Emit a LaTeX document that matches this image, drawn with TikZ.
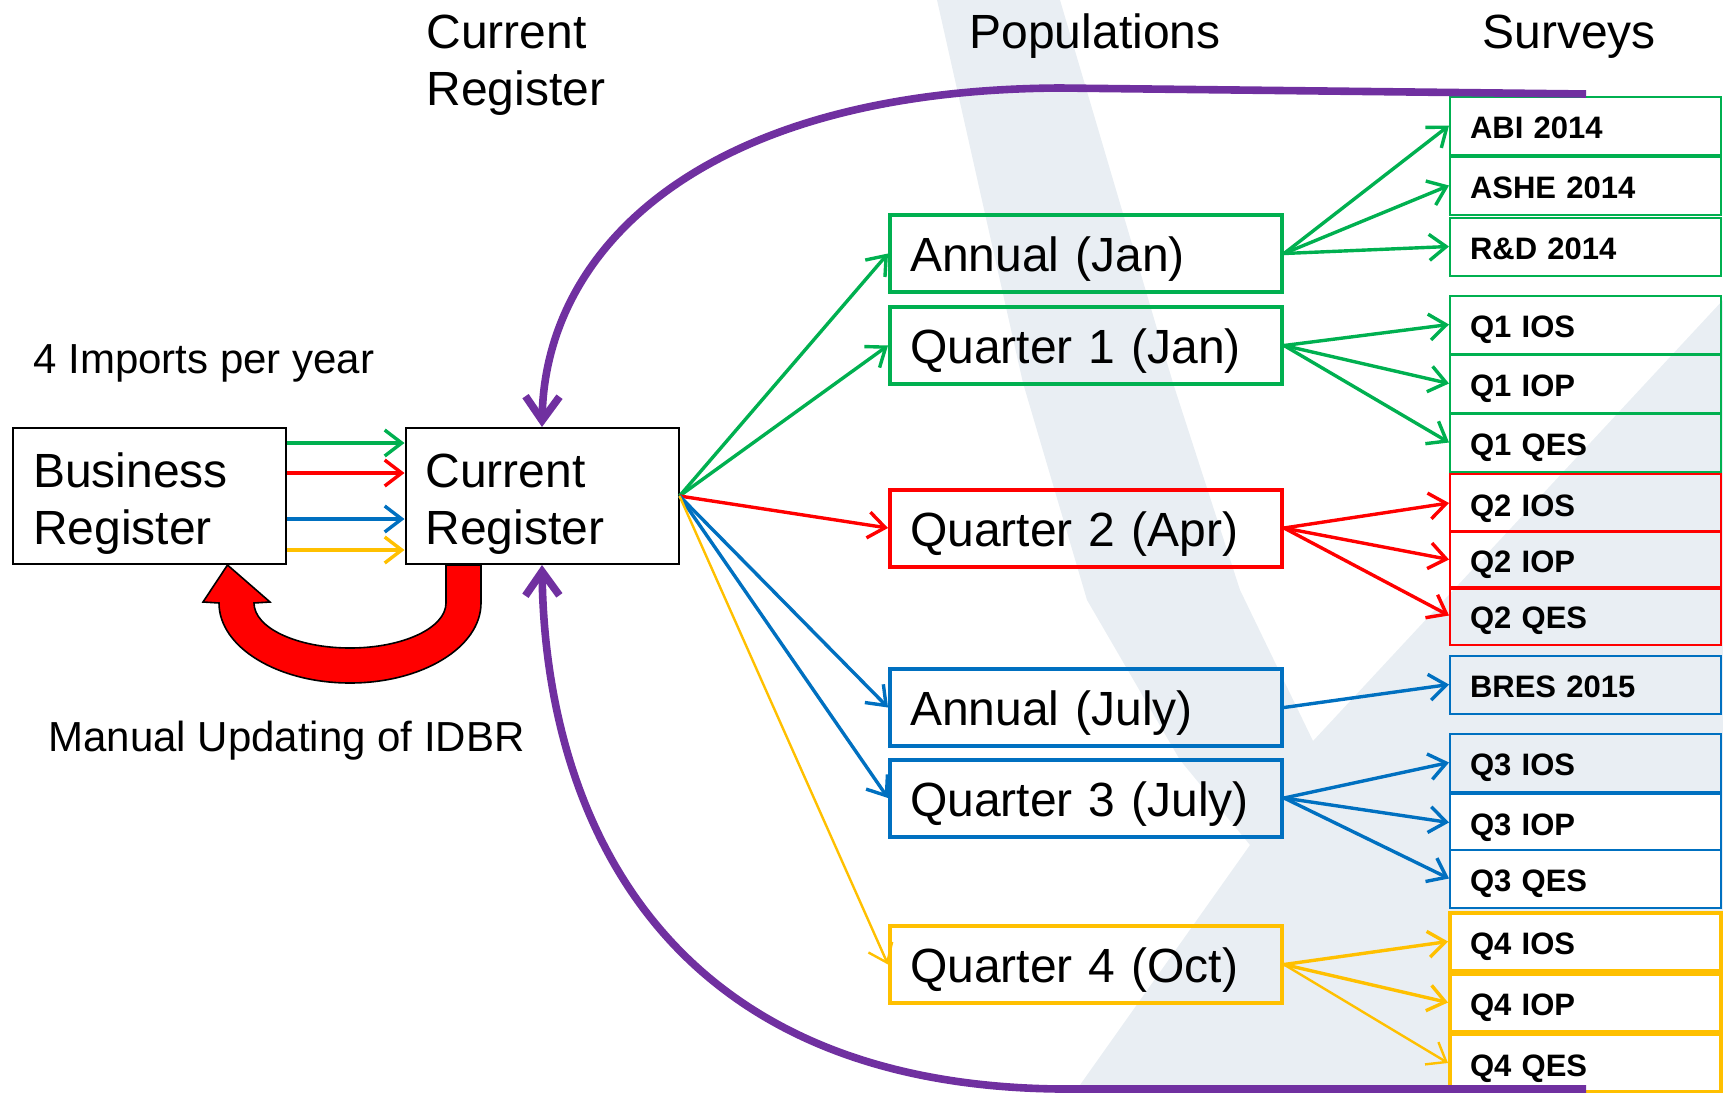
\documentclass[tikz,border=0pt]{standalone}
\usepackage{fontspec}
\setmainfont{Liberation Sans}
\usetikzlibrary{arrows.meta,calc}

\definecolor{onsgreen}{RGB}{0,176,80}
\definecolor{onsred}{RGB}{255,0,0}
\definecolor{onsblue}{RGB}{0,112,192}
\definecolor{onsyellow}{RGB}{255,192,0}
\definecolor{onspurple}{RGB}{112,48,160}
\definecolor{wmark}{RGB}{233,238,243}

\begin{document}
\begin{tikzpicture}[
    x=0.5pt, y=0.5pt,
    >={Straight Barb[length=8.5pt,width=13pt]},
    regbox/.style={draw=black, fill=white, line width=1pt, align=left, text width=116.5pt, inner xsep=10pt, minimum height=68pt, text height=24.5pt, text depth=33.5pt, font=\fontsize{24}{28.5}\selectfont},
    popbox/.style={draw=#1, line width=2pt, align=left, text width=176pt, inner xsep=10pt, minimum height=38.5pt, text height=23pt, text depth=5pt, font=\fontsize{24}{28.5}\selectfont},
    svbox/.style={draw=#1, line width=1pt, align=left, text width=115.5pt, inner xsep=10pt, minimum height=29pt, text height=14pt, text depth=1pt, font=\fontsize{15.5}{18}\selectfont\bfseries},
    heading/.style={align=left, inner sep=0pt, font=\fontsize{24}{28.5}\selectfont},
    note/.style={inner sep=0pt, font=\fontsize{21}{25}\selectfont},
    flow/.style={->, line width=1.7pt, draw=#1},
    loopback/.style={-{Straight Barb[length=12pt,width=17pt]}, line width=3.8pt, draw=onspurple},
    uturn/.style={fill=onsred, draw=black, line width=0.8pt, line join=miter}
]
\useasboundingbox (0,0) rectangle (1723,-1092);

% background mark
\fill[wmark] (937,0) -- (1060,0) -- (1173,-383) -- (1240,-590) -- (1313,-741) -- (1723,-300) -- (1723,-1092) -- (1075,-1092) -- (1250,-845) -- (1180,-760) -- (1087,-600) -- (1023,-383) -- cycle;

% column headings
\node[heading, anchor=west] (hcurreg) at (426,-65) {Current\\Register};
\node[heading] (hpop) at (1095,-36.5) {Populations};
\node[heading] (hsurv) at (1569,-36.5) {Surveys};
\node[note, anchor=west] (imports) at (33,-363.5) {4 Imports per year};
\node[note, anchor=west] (manual) at (48,-741) {Manual Updating of IDBR};

% registers
\node[regbox] (busreg) at (149.5,-496) {Business\\Register};
\node[regbox] (curreg) at (542,-496) {Current\\Register};

% populations
\node[popbox=onsgreen] (annjan) at (1086,-253.5) {Annual (Jan)};
\node[popbox=onsgreen] (qonejan) at (1086,-345.5) {Quarter 1 (Jan)};
\node[popbox=onsred] (qtwoapr) at (1086,-528) {Quarter 2 (Apr)};
\node[popbox=onsblue] (annjul) at (1086,-707.5) {Annual (July)};
\node[popbox=onsblue] (qthreejul) at (1086,-798) {Quarter 3 (July)};
\node[popbox=onsyellow] (qfouroct) at (1086,-964.5) {Quarter 4 (Oct)};

% surveys
\node[svbox=onsgreen] (abi) at (1585.5,-125.5) {ABI 2014};
\node[svbox=onsgreen] (ashe) at (1585.5,-185.5) {ASHE 2014};
\node[svbox=onsgreen] (rnd) at (1585.5,-246.5) {R\&D 2014};
\node[svbox=onsgreen] (qoneios) at (1585.5,-324.5) {Q1 IOS};
\node[svbox=onsgreen] (qoneiop) at (1585.5,-383.5) {Q1 IOP};
\node[svbox=onsgreen] (qoneqes) at (1585.5,-442.5) {Q1 QES};
\node[svbox=onsred] (qtwoios) at (1585.5,-503) {Q2 IOS};
\node[svbox=onsred] (qtwoiop) at (1585.5,-559.5) {Q2 IOP};
\node[svbox=onsred] (qtwoqes) at (1585.5,-615.5) {Q2 QES};
\node[svbox=onsblue] (bres) at (1585.5,-684.5) {BRES 2015};
\node[svbox=onsblue] (qthreeios) at (1585.5,-762.5) {Q3 IOS};
\node[svbox=onsblue, fill=white] (qthreeiop) at (1585.5,-822.5) {Q3 IOP};
\node[svbox=onsblue, fill=white] (qthreeqes) at (1585.5,-878.5) {Q3 QES};
\node[svbox=onsyellow, fill=white, line width=2pt] (qfourios) at (1585.5,-941.5) {Q4 IOS};
\node[svbox=onsyellow, fill=white, line width=2pt] (qfouriop) at (1585.5,-1002.5) {Q4 IOP};
\node[svbox=onsyellow, fill=white, line width=2pt] (qfourqes) at (1585.5,-1063) {Q4 QES};

% imports
\draw[flow=onsgreen] ([yshift=26.5pt]busreg.east) -- ([yshift=26.5pt]curreg.west);
\draw[flow=onsred] ([yshift=11.5pt]busreg.east) -- ([yshift=11.5pt]curreg.west);
\draw[flow=onsblue] ([yshift=-11.5pt]busreg.east) -- ([yshift=-11.5pt]curreg.west);
\draw[flow=onsyellow] ([yshift=-27pt]busreg.east) -- ([yshift=-27pt]curreg.west);

% register to populations
\draw[flow=onsgreen] (curreg.east) -- (annjan.west);
\draw[flow=onsgreen] (curreg.east) -- (qonejan.west);
\draw[flow=onsred] (curreg.east) -- (qtwoapr.west);
\draw[flow=onsblue] (curreg.east) -- (annjul.west);
\draw[flow=onsblue] (curreg.east) -- (qthreejul.west);
\draw[flow=onsyellow, line width=1.2pt] (curreg.east) -- (qfouroct.west);

% populations to surveys
\draw[flow=onsgreen] (annjan.east) -- (abi.west);
\draw[flow=onsgreen] (annjan.east) -- (ashe.west);
\draw[flow=onsgreen] (annjan.east) -- (rnd.west);
\draw[flow=onsgreen] (qonejan.east) -- (qoneios.west);
\draw[flow=onsgreen] (qonejan.east) -- (qoneiop.west);
\draw[flow=onsgreen] (qonejan.east) -- (qoneqes.west);
\draw[flow=onsred] (qtwoapr.east) -- (qtwoios.west);
\draw[flow=onsred] (qtwoapr.east) -- (qtwoiop.west);
\draw[flow=onsred] (qtwoapr.east) -- (qtwoqes.west);
\draw[flow=onsblue] (annjul.east) -- (bres.west);
\draw[flow=onsblue] (qthreejul.east) -- (qthreeios.west);
\draw[flow=onsblue] (qthreejul.east) -- (qthreeiop.west);
\draw[flow=onsblue] (qthreejul.east) -- (qthreeqes.west);
\draw[flow=onsyellow] (qfouroct.east) -- (qfourios.west);
\draw[flow=onsyellow] (qfouroct.east) -- (qfouriop.west);
\draw[flow=onsyellow, line width=1.2pt] (qfouroct.east) -- (qfourqes.west);

% surveys feed back into the register
\coordinate (toptail) at (1586,-94);
\coordinate (topbend) at (1060,-88);
\coordinate (bottail) at (1586,-1089);
\coordinate (botbend) at (1060,-1089);
\draw[loopback] (toptail) -- (topbend) .. controls (700,-90) and (545,-250) .. (curreg.north);
\draw[loopback] (bottail) -- (botbend) .. controls (650,-1085) and (545,-800) .. (curreg.south);

% manual updating
\coordinate (ucenter) at (350,-603);
\draw[uturn] ([xshift=-30.5pt]curreg.south) -- ($(ucenter)+(131,0)$)
    arc[start angle=0, end angle=-180, x radius=65.5pt, y radius=40pt]
    -- ($(ucenter)+(-147,1)$) -- ([xshift=39pt]busreg.south) -- ($(ucenter)+(-80,1)$)
    -- ($(ucenter)+(-96,0)$) arc[start angle=180, end angle=360, x radius=48pt, y radius=22.5pt]
    -- ([xshift=-48pt]curreg.south) -- cycle;
\end{tikzpicture}
\end{document}
